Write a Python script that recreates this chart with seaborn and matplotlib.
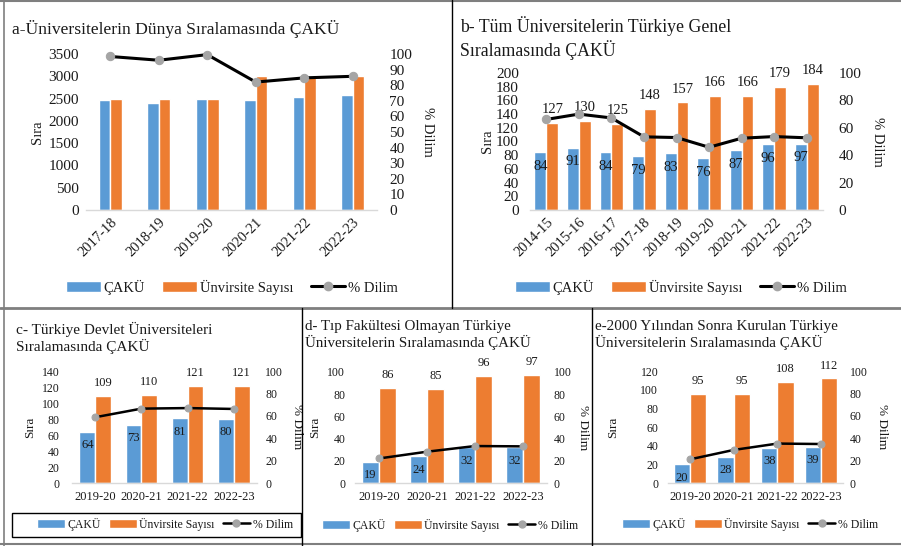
import numpy as np
import pandas as pd
import matplotlib
matplotlib.use("Agg")
import matplotlib.pyplot as plt
import seaborn as sns
from matplotlib.lines import Line2D
from matplotlib.patches import Patch, Rectangle

# =========================
# Data
# =========================
years_a = ["2017-18", "2018-19", "2019-20", "2020-21", "2021-22", "2022-23"]
caku_a = [2460, 2400, 2490, 2460, 2540, 2570]
count_a = [2500, 2500, 2500, 3000, 3000, 3000]
pct_a = [98.4, 96.0, 99.6, 82.0, 84.7, 85.7]

years_b = ["2014-15", "2015-16", "2016-17", "2017-18", "2018-19",
           "2019-20", "2020-21", "2021-22", "2022-23"]
caku_b = [84, 91, 84, 79, 83, 76, 87, 96, 97]
count_b = [127, 130, 125, 148, 157, 166, 166, 179, 184]
pct_b = [66.1, 70.0, 67.2, 53.4, 52.9, 45.8, 52.4, 53.6, 52.7]

years_cde = ["2019-20", "2020-21", "2021-22", "2022-23"]
caku_c = [64, 73, 81, 80]
count_c = [109, 110, 121, 121]
pct_c = [58.7, 66.4, 66.9, 66.1]

caku_d = [19, 24, 32, 32]
count_d = [86, 85, 96, 97]
pct_d = [22.1, 28.2, 33.3, 33.0]

caku_e = [20, 28, 38, 39]
count_e = [95, 95, 108, 112]
pct_e = [21.1, 29.5, 35.2, 34.8]

titles = {
    "a": "a-Üniversitelerin Dünya Sıralamasında ÇAKÜ",
    "b": "b- Tüm Üniversitelerin Türkiye Genel\nSıralamasında ÇAKÜ",
    "c": "c- Türkiye Devlet Üniversiteleri\nSıralamasında ÇAKÜ",
    "d": "d- Tıp Fakültesi Olmayan Türkiye\nÜniversitelerin Sıralamasında ÇAKÜ",
    "e": "e-2000 Yılından Sonra Kurulan Türkiye\nÜniversitelerin Sıralamasında ÇAKÜ",
}
series_names = ["ÇAKÜ", "Ünvirsite Sayısı", "% Dilim"]

BLUE = "#5B9BD5"
ORANGE = "#ED7D31"
GRAY = "#A5A5A5"
TXT = "#1a1a1a"

sns.set_style("white")
plt.rcParams["font.family"] = ["Liberation Serif", "DejaVu Serif"]
plt.rcParams["text.color"] = TXT
plt.rcParams["axes.labelcolor"] = TXT
plt.rcParams["xtick.color"] = TXT
plt.rcParams["ytick.color"] = TXT

W, H = 901, 546
fig = plt.figure(figsize=(W / 100, H / 100), dpi=100)


def px_axes(l, t, r, b):
    return fig.add_axes([l / W, 1 - b / H, (r - l) / W, (b - t) / H])


def draw_panel(box, years, caku, count, pct, ymax, ystep, bw, cfg):
    l, t, r, b = box
    n = len(years)
    ax = px_axes(l, t, r, b)
    df = pd.DataFrame({
        "Yıl": years * 2,
        "Seri": [series_names[0]] * n + [series_names[1]] * n,
        "Değer": caku + count,
    })
    sns.barplot(data=df, x="Yıl", y="Değer", hue="Seri",
                palette=[BLUE, ORANGE], width=bw, saturation=1,
                errorbar=None, legend=False, ax=ax)
    ax.set_xlim(-0.5, n - 0.5)
    ax.set_ylim(0, ymax)
    ax.set_yticks(np.arange(0, ymax + 1, ystep))
    ax.set_xlabel("")
    ax.tick_params(axis="y", length=0, pad=cfg["lpad"], labelsize=cfg["yfs"])
    ax.tick_params(axis="x", length=0, pad=cfg["xpad"], labelsize=cfg["xfs"])
    if cfg["rot"]:
        for lab in ax.get_xticklabels():
            lab.set_rotation(45)
            lab.set_ha("right")
            lab.set_rotation_mode("anchor")
    for s in ["top", "left", "right"]:
        ax.spines[s].set_visible(False)
    ax.spines["bottom"].set_color("#D9D9D9")
    ax.spines["bottom"].set_linewidth(1.0)
    ax.set_ylabel("Sıra", fontsize=cfg["afs"], va="center")
    ax.yaxis.set_label_coords((cfg["ylab"] - l) / (r - l), 0.5)

    if cfg["labels"]:
        ax.bar_label(ax.containers[0], fmt="%d", padding=cfg["inpad"],
                     fontsize=cfg["lfs"], color=TXT)
        ax.bar_label(ax.containers[1], fmt="%d", padding=cfg["outpad"],
                     fontsize=cfg["lfs"], color=TXT)

    ax2 = ax.twinx()
    sns.lineplot(x=np.arange(n), y=pct, ax=ax2, color="black", lw=cfg["lw"],
                 marker="o", markersize=cfg["ms"], markerfacecolor=GRAY,
                 markeredgecolor=GRAY, sort=False, zorder=5, clip_on=False)
    ax2.set_ylim(0, 100)
    ax2.set_yticks(np.arange(0, 101, cfg["pstep"]))
    ax2.tick_params(axis="y", length=0, pad=cfg["rpad"], labelsize=cfg["yfs"])
    for s in ["top", "left", "right", "bottom"]:
        ax2.spines[s].set_visible(False)
    ax2.set_ylabel("% Dilim", fontsize=cfg["afs"], rotation=270, va="center")
    ax2.yaxis.set_label_coords((cfg["plab"] - l) / (r - l), 0.5)
    return ax


def add_legend(cx, cy, fs, lw, ms, colsp):
    handles = [Patch(facecolor=BLUE), Patch(facecolor=ORANGE),
               Line2D([0], [0], color="black", lw=lw, marker="o", markersize=ms,
                      markerfacecolor=GRAY, markeredgecolor=GRAY)]
    fig.legend(handles, series_names, loc="center",
               bbox_to_anchor=(cx / W, 1 - cy / H), ncol=3, frameon=False,
               fontsize=fs, handlelength=2.35, handletextpad=0.2,
               columnspacing=colsp, borderpad=0)


top_cfg = dict(rot=True, xfs=10.5, yfs=11, afs=10.5, lpad=5, rpad=9, xpad=4,
               lw=2.2, ms=6, pstep=10, labels=False, lfs=10.5,
               inpad=-15, outpad=5)
bot_cfg = dict(rot=False, xfs=9, yfs=8.5, afs=9.5, lpad=7, rpad=6, xpad=6,
               lw=1.8, ms=5, pstep=20, labels=True, lfs=9,
               inpad=-14, outpad=5)

# a
draw_panel((86, 54, 377, 210), years_a, caku_a, count_a, pct_a, 3500, 500, 0.48,
           dict(top_cfg, ylab=38, plab=428))
# b
draw_panel((530, 73, 823, 210), years_b, caku_b, count_b, pct_b, 200, 20, 0.73,
           dict(top_cfg, pstep=20, labels=True, lpad=8, rpad=11,
                ylab=487, plab=878))
# c
draw_panel((72, 371, 257, 483), years_cde, caku_c, count_c, pct_c, 140, 20, 0.68,
           dict(bot_cfg, lpad=9, ylab=30, plab=297))
# d
draw_panel((355, 372, 547, 483), years_cde, caku_d, count_d, pct_d, 100, 20, 0.72,
           dict(bot_cfg, lpad=7, rpad=5, ylab=315, plab=583))
# e
draw_panel((668, 371, 843, 483), years_cde, caku_e, count_e, pct_e, 120, 20, 0.74,
           dict(bot_cfg, lpad=7, rpad=5, ylab=613, plab=882))

# titles
fig.text(12 / W, 1 - 29 / H, titles["a"], fontsize=12.6, va="center", ha="left")
fig.text(460 / W, 1 - 38 / H, titles["b"], fontsize=12.8, va="center", ha="left",
         linespacing=1.25)
fig.text(16 / W, 1 - 338 / H, titles["c"], fontsize=11, va="center", ha="left",
         linespacing=1.2)
fig.text(305 / W, 1 - 335 / H, titles["d"], fontsize=10.8, va="center", ha="left",
         linespacing=1.2)
fig.text(595 / W, 1 - 335 / H, titles["e"], fontsize=10.9, va="center", ha="left",
         linespacing=1.2)

# legends
add_legend(232, 287, 10.5, 2.2, 6, 1.2)
add_legend(681, 287, 10.5, 2.2, 6, 1.2)
add_legend(165, 524, 8.5, 1.8, 5, 0.7)
add_legend(450, 525, 8.5, 1.8, 5, 0.7)
add_legend(750, 524, 8.5, 1.8, 5, 0.7)

# legend box of panel c
fig.add_artist(Rectangle((12 / W, 1 - 537 / H), (301 - 12) / W, 24 / H,
                         transform=fig.transFigure, fill=False,
                         edgecolor="black", lw=1.0))

# panel frames
def hline(y, x0, x1, color, lw):
    fig.add_artist(Line2D([x0 / W, x1 / W], [1 - y / H, 1 - y / H],
                          transform=fig.transFigure, color=color, lw=lw))


def vline(x, y0, y1, color, lw):
    fig.add_artist(Line2D([x / W, x / W], [1 - y0 / H, 1 - y1 / H],
                          transform=fig.transFigure, color=color, lw=lw))


hline(1, 0, W, "#7f7f7f", 1.5)
hline(308, 0, W, "#7f7f7f", 2.0)
hline(544, 0, W, "#7f7f7f", 1.5)
vline(4, 0, H, "#7f7f7f", 1.2)
vline(452, 0, 308, "black", 1.0)
vline(302, 308, H, "black", 1.0)
vline(592, 308, H, "black", 1.0)

fig.savefig("out.png", dpi=100)
